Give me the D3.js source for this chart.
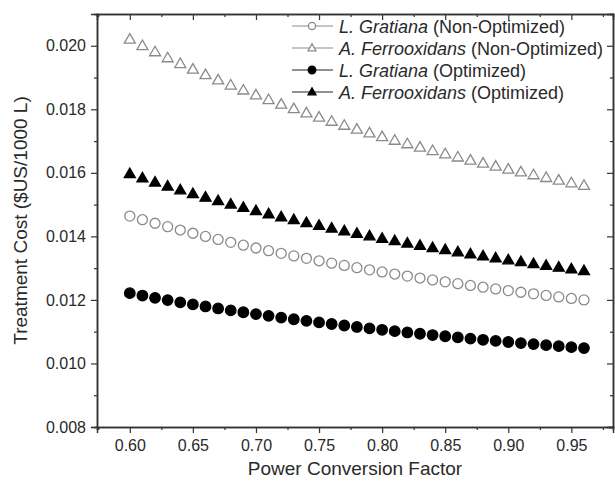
<!DOCTYPE html>
<html>
<head>
<meta charset="utf-8">
<script src="https://cdn.jsdelivr.net/npm/d3@7"></script>
<style>
  body { margin: 0; background: #fff; }
  text { font-family: "Liberation Sans", Arial, sans-serif; fill: #2a2a2a; }
</style>
</head>
<body>
<div id="chart"></div>
<script>
// power conversion factor
var pcf = [0.60,0.61,0.62,0.63,0.64,0.65,0.66,0.67,0.68,0.69,0.70,0.71,0.72,0.73,0.74,0.75,0.76,0.77,0.78,0.79,
           0.80,0.81,0.82,0.83,0.84,0.85,0.86,0.87,0.88,0.89,0.90,0.91,0.92,0.93,0.94,0.95,0.96];

// treatment cost, $US/1000 L
var lgNonOpt = [0.014640,0.014525,0.014413,0.014305,0.014200,0.014098,0.014000,0.013904,0.013812,0.013722,
                0.013634,0.013549,0.013467,0.013386,0.013308,0.013232,0.013158,0.013086,0.013015,0.012947,
                0.012880,0.012815,0.012751,0.012689,0.012629,0.012569,0.012512,0.012455,0.012400,0.012346,
                0.012293,0.012242,0.012191,0.012142,0.012094,0.012046,0.012000];
var afNonOpt = [0.020197,0.019996,0.019801,0.019613,0.019430,0.019253,0.019082,0.018915,0.018754,0.018597,
                0.018444,0.018296,0.018152,0.018012,0.017876,0.017743,0.017614,0.017488,0.017366,0.017246,
                0.017130,0.017016,0.016906,0.016797,0.016692,0.016589,0.016488,0.016390,0.016294,0.016200,
                0.016108,0.016018,0.015930,0.015844,0.015760,0.015677,0.015597];
var lgOpt    = [0.012213,0.012138,0.012065,0.011994,0.011925,0.011858,0.011794,0.011731,0.011671,0.011612,
                0.011554,0.011499,0.011444,0.011392,0.011341,0.011291,0.011242,0.011195,0.011149,0.011104,
                0.011060,0.011017,0.010976,0.010935,0.010895,0.010856,0.010819,0.010782,0.010745,0.010710,
                0.010676,0.010642,0.010609,0.010576,0.010545,0.010514,0.010483];
var afOpt    = [0.015963,0.015830,0.015701,0.015576,0.015455,0.015338,0.015224,0.015114,0.015006,0.014903,
                0.014801,0.014703,0.014608,0.014515,0.014425,0.014337,0.014251,0.014168,0.014086,0.014007,
                0.013930,0.013855,0.013781,0.013710,0.013640,0.013571,0.013504,0.013439,0.013375,0.013313,
                0.013252,0.013193,0.013134,0.013077,0.013021,0.012967,0.012913];

var xTicks = [0.60,0.65,0.70,0.75,0.80,0.85,0.90,0.95];
var yTicks = [0.008,0.010,0.012,0.014,0.016,0.018,0.020];

var species  = ["L. Gratiana", "A. Ferrooxidans", "L. Gratiana", "A. Ferrooxidans"];
var variants = ["(Non-Optimized)", "(Non-Optimized)", "(Optimized)", "(Optimized)"];

var series = [
  {values: lgNonOpt, shape: "circle",   filled: false},
  {values: afNonOpt, shape: "triangle", filled: false},
  {values: lgOpt,    shape: "circle",   filled: true},
  {values: afOpt,    shape: "triangle", filled: true}
];

var width = 615, height = 484;
var mLeft = 97, mRight = 613, mTop = 14, mBottom = 427;

var svg = d3.select("#chart").append("svg")
    .attr("width", width)
    .attr("height", height);

var x = d3.scaleLinear().domain([0.574, 0.983]).range([mLeft, mRight]);
var y = d3.scaleLinear().domain([0.008, 0.021]).range([mBottom, mTop]);

var minorX = [0.575,0.625,0.675,0.725,0.775,0.825,0.875,0.925,0.975];
var minorY = [0.009,0.011,0.013,0.015,0.017,0.019];

// bottom axis
svg.append("g").attr("transform", "translate(0," + mBottom + ")")
    .call(d3.axisBottom(x).tickValues(xTicks).tickSize(6).tickPadding(7).tickFormat(d3.format(".2f")));
svg.append("g").attr("transform", "translate(0," + mBottom + ")")
    .call(d3.axisBottom(x).tickValues(minorX).tickSize(3).tickFormat(""));

// left axis
svg.append("g").attr("transform", "translate(" + mLeft + ",0)")
    .call(d3.axisLeft(y).tickValues(yTicks).tickSize(6).tickPadding(5).tickFormat(d3.format(".3f")));
svg.append("g").attr("transform", "translate(" + mLeft + ",0)")
    .call(d3.axisLeft(y).tickValues(minorY).tickSize(3).tickFormat(""));

// top and right, ticks pointing in
svg.append("g").attr("transform", "translate(0," + mTop + ")")
    .call(d3.axisTop(x).tickValues(xTicks).tickSize(-6).tickFormat(""));
svg.append("g").attr("transform", "translate(0," + mTop + ")")
    .call(d3.axisTop(x).tickValues(minorX).tickSize(-3).tickFormat(""));
svg.append("g").attr("transform", "translate(" + mRight + ",0)")
    .call(d3.axisRight(y).tickValues(yTicks).tickSize(-6).tickFormat(""));
svg.append("g").attr("transform", "translate(" + mRight + ",0)")
    .call(d3.axisRight(y).tickValues(minorY).tickSize(-3).tickFormat(""));

svg.selectAll(".domain").attr("stroke", "#333").attr("stroke-width", 1.5);
svg.selectAll(".tick line").attr("stroke", "#333").attr("stroke-width", 1.2);
svg.selectAll(".tick text").style("font-size", "16px").style("font-family", "Liberation Sans, Arial, sans-serif").attr("fill", "#2a2a2a");

// axis titles
svg.append("text")
    .attr("x", (mLeft + mRight) / 2)
    .attr("y", 475)
    .attr("text-anchor", "middle")
    .style("font-size", "19px")
    .text("Power Conversion Factor");

svg.append("text")
    .attr("transform", "translate(27," + ((mTop + mBottom) / 2) + ") rotate(-90)")
    .attr("text-anchor", "middle")
    .style("font-size", "19px")
    .text("Treatment Cost ($US/1000 L)");

var triangle = d3.symbol().type(d3.symbolTriangle);

function drawMarker(g, s, cx, cy, size) {
  var stroke = s.filled ? "#000" : "#8a8a8a";
  var fill = s.filled ? "#000" : "#fff";
  if (s.shape === "circle") {
    g.append("circle")
      .attr("cx", cx).attr("cy", cy).attr("r", s.filled ? size * 1.05 : size)
      .attr("fill", fill).attr("stroke", stroke).attr("stroke-width", 1.3);
  } else {
    g.append("path")
      .attr("d", triangle.size(size * size * 2.1)())
      .attr("transform", "translate(" + cx + "," + (cy + 0.5) + ")")
      .attr("fill", fill).attr("stroke", stroke).attr("stroke-width", 1.3);
  }
}

// markers
series.forEach(function(s) {
  var g = svg.append("g");
  s.values.forEach(function(v, i) {
    drawMarker(g, s, x(pcf[i]), y(v), 5);
  });
});

// legend
var legend = svg.append("g");
series.forEach(function(s, i) {
  var ly = 26 + i * 22;
  var col = s.filled ? "#222" : "#8a8a8a";
  legend.append("line").attr("x1", 292).attr("x2", 333).attr("y1", ly).attr("y2", ly)
    .attr("stroke", col).attr("stroke-width", 1.2);
  drawMarker(legend, s, 312, ly, 3.6);
  var t = legend.append("text").attr("x", 339).attr("y", ly + 6.5).style("font-size", "18px");
  t.append("tspan").style("font-style", "italic").text(species[i]);
  t.append("tspan").text(" " + variants[i]);
});
</script>
</body>
</html>
